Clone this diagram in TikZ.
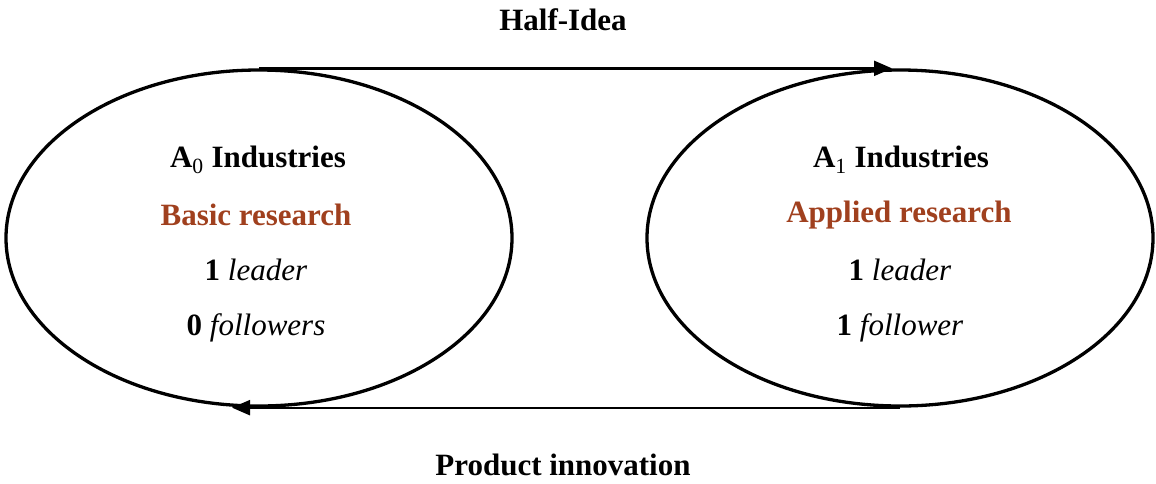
\documentclass[tikz,border=0pt]{standalone}
\usepackage{fontspec}
\setmainfont{Liberation Serif}
\usetikzlibrary{shapes.geometric,arrows.meta}
\definecolor{brick}{RGB}{160,64,30}
\tikzset{
  oval/.style={draw=black, line width=3.3pt, ellipse, minimum width=506pt, minimum height=336pt, inner sep=0pt},
  conn/.style={draw=black, line width=2.3pt, -{Triangle[length=18pt,width=15pt]}},
  lbl/.style={font=\fontsize{31}{37}\selectfont\bfseries, inner sep=0pt},
  red/.style={lbl, text=brick},
  txt/.style={font=\fontsize{31}{37}\selectfont, inner sep=0pt}
}
\begin{document}
\begin{tikzpicture}[x=1pt,y=-1pt]
\useasboundingbox (0,0) rectangle (1156,483);
\node[oval] (L) at (259,238) {};
\node[oval] (R) at (900,238) {};
\draw[conn] (L.north) -- ([xshift=-8pt]R.north);
\draw[conn] (R.south) -- ([xshift=-27pt]L.south);
\node[lbl] (half) at (563,20) {Half-Idea};
\node[lbl] (prod) at (563,465) {Product innovation};
\node[lbl] (a0) at (258,160) {A\textsubscript{\mdseries 0} Industries};
\node[red] (basic) at (256,215) {Basic research};
\node[txt] (l0) at (256,270) {\textbf{1} \textit{leader}};
\node[txt] (f0) at (256,328) {\textbf{0} \textit{followers}};
\node[lbl] (a1) at (901,160) {A\textsubscript{\mdseries 1} Industries};
\node[red] (appl) at (899,215) {Applied research};
\node[txt] (l1) at (900,270) {\textbf{1} \textit{leader}};
\node[txt] (f1) at (900,328) {\textbf{1} \textit{follower}};
\end{tikzpicture}
\end{document}
